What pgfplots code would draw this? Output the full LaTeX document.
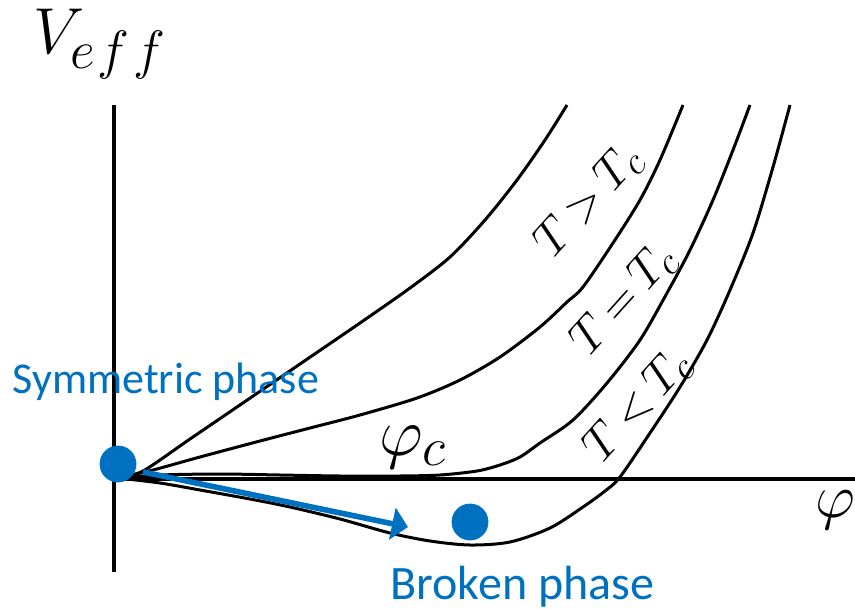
\RequirePackage{fix-cm}
\documentclass[border=0pt]{standalone}
\usepackage{fontspec}
\newfontfamily\calibri{Carlito}
\usepackage{pgfplots}
\pgfplotsset{compat=1.18}
\usetikzlibrary{arrows.meta}
\renewcommand\defaultscriptratio{.8}
\definecolor{phaseblue}{RGB}{0,112,192}
\newcommand\tlab[1]{$\thickmuskip=3.5mu #1$}

\begin{document}
\begin{tikzpicture}[
  tlabel/.style={rotate=48, inner sep=0pt, font=\fontsize{24}{28}\selectfont},
]
\begin{axis}[
  width=427.5pt, height=304.5pt, scale only axis,
  xmin=0, xmax=855, ymin=0, ymax=609, y dir=reverse,
  axis lines=none, clip=false,
  every axis plot/.append style={line join=round},
]
% coordinate axes of the potential
\addplot[black, line width=2.2pt] coordinates {(114,105) (114,572)};
\addplot[black, line width=2.2pt] coordinates {(113,479) (855,479)};

% T > T_c (steep branch)
\addplot[black, line width=1.5pt, smooth] coordinates {
  (118,478) (143,471) (190,439) (237,407) (300,364) (360,323)
  (410,288) (450,257) (485,220) (517,180) (545,140) (567,105)};
% T > T_c (second branch)
\addplot[black, line width=1.5pt, smooth] coordinates {
  (118,478) (153,470) (200,457) (260,441) (310,428) (360,415)
  (417,398) (460,380) (500,357) (540,327) (567,302) (583,287)
  (613,243) (640,200) (660,160) (683,105)};
% T = T_c
\addplot[black, line width=1.5pt, smooth] coordinates {
  (118,478) (160,475) (220,474) (280,475) (340,476) (400,476)
  (440,475) (477,471) (500,465) (520,457) (540,443) (573,420)
  (607,383) (640,340) (667,293) (690,250) (713,200) (733,150) (750,105)};
% T < T_c
\addplot[black, line width=1.5pt, smooth] coordinates {
  (118,478) (160,483) (200,490) (250,499) (290,507) (340,519)
  (390,533) (430,541) (470,545) (510,542) (550,528) (583,507)
  (605,491) (620,477) (650,433) (680,387) (707,340) (730,290)
  (753,233) (773,167) (790,105)};

% phases
\addplot[phaseblue, line width=2.8pt,
  -{Triangle[length=8pt, width=16pt]}] coordinates {(143,472) (408,527)};
\addplot[only marks, mark=*, mark size=9pt, phaseblue,
  mark options={draw=phaseblue, fill=phaseblue}] coordinates {(118,464) (470,522)};

% labels
\node[anchor=center, font=\fontsize{32.5}{36}\selectfont]
  at (axis cs:100,44) {$V_{\mbox{\fontsize{27}{30}\selectfont$e\mkern1mu f\mkern1.5mu f$}}$};
\node[anchor=center, font=\fontsize{31}{34}\selectfont]
  at (axis cs:835,510) {$\varphi$};
\node[anchor=center, font=\fontsize{34}{38}\selectfont]
  at (axis cs:413,447) {$\varphi_c$};
\node[tlabel] at (axis cs:589,201) {\tlab{T>T_c}};
\node[tlabel] at (axis cs:624,300) {\tlab{T=T_c}};
\node[tlabel] at (axis cs:638,406) {\tlab{T<T_c}};
\node[anchor=base west, inner sep=0pt, text=phaseblue,
  font=\calibri\fontsize{22}{24}\selectfont]
  at (axis cs:12,393) {Symmetric phase};
\node[anchor=base west, inner sep=0pt, text=phaseblue,
  font=\calibri\fontsize{24}{27}\selectfont]
  at (axis cs:390,599) {Broken phase};
\end{axis}
\pgfresetboundingbox
\path (current axis.south west) rectangle (current axis.north east);
\end{tikzpicture}
\end{document}
